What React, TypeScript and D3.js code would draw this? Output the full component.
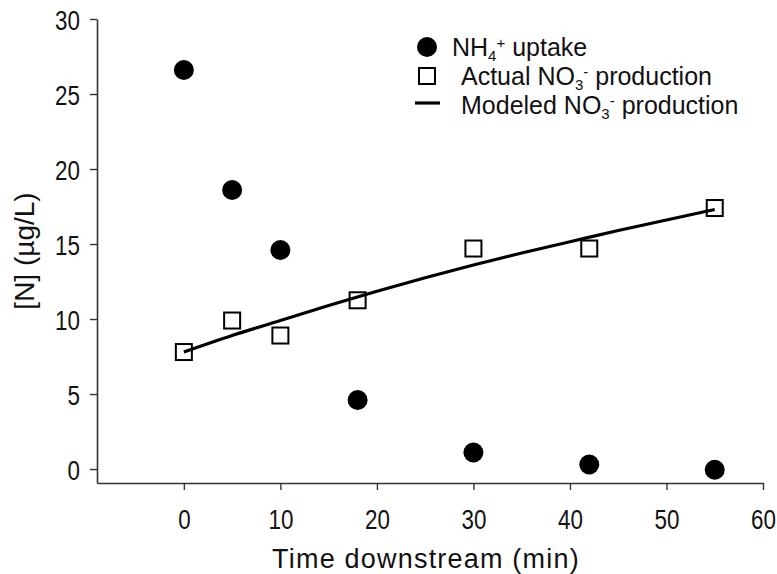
import React, { useEffect, useRef } from 'react';
import * as d3 from 'd3';

// time downstream (min)
const times = [0, 5, 10, 18, 30, 42, 55];
// NH4+ uptake (µg/L)
const nh4Uptake = [26.6, 18.6, 14.6, 4.6, 1.1, 0.3, -0.05];
// actual NO3- production (µg/L)
const no3Actual = [7.8, 9.9, 8.9, 11.25, 14.7, 14.7, 17.4];
// modeled NO3- production curve
const modelTimes = [0, 5, 10, 15, 20, 25, 30, 35, 40, 45, 50, 55];
const no3Modeled = [7.8, 8.9, 9.9, 10.9, 11.85, 12.75, 13.6, 14.4, 15.15, 15.9, 16.6, 17.3];

const xTicks = [0, 10, 20, 30, 40, 50, 60];
const yTicks = [0, 5, 10, 15, 20, 25, 30];

const W = 777;
const H = 574;
const FONT = '"Liberation Sans", Arial, sans-serif';
const SQUEEZE = 0.8; // tick labels are drawn condensed

const App: React.FC = () => {
    const svgRef = useRef<SVGSVGElement | null>(null);

    useEffect(() => {
        document.body.style.margin = '0';
        const svg = d3.select(svgRef.current).attr('width', W).attr('height', H);
        svg.selectAll('*').remove();

        const x = d3.scaleLinear().domain([-9, 60]).range([97, 763]);
        const y = d3.scaleLinear().domain([-0.93, 30]).range([483, 19]);

        svg.append('rect').attr('width', W).attr('height', H).attr('fill', '#fff');

        // axes
        const axisColor = '#333';
        const xAxis = svg.append('g').attr('transform', `translate(0,${y(-0.93)})`)
            .call(d3.axisBottom(x).tickValues(xTicks).tickSize(7).tickSizeOuter(0).tickPadding(19));
        const yAxis = svg.append('g').attr('transform', `translate(${x(-9)},0)`)
            .call(d3.axisLeft(y).tickValues(yTicks).tickSize(7).tickSizeOuter(0));

        [xAxis, yAxis].forEach(g => {
            g.select('.domain').attr('stroke', axisColor).attr('stroke-width', 1.6);
            g.selectAll('.tick line').attr('stroke', axisColor).attr('stroke-width', 1.4);
            g.selectAll('.tick text')
                .attr('fill', '#111')
                .style('font-family', FONT)
                .style('font-size', '28px')
                .attr('transform', `scale(${SQUEEZE},1)`);
        });
        yAxis.selectAll('.tick text').attr('x', -17 / SQUEEZE).attr('dy', '0.36em');

        // axis titles
        svg.append('text')
            .attr('x', 426).attr('y', 568)
            .attr('text-anchor', 'middle')
            .style('font-family', FONT).style('font-size', '27px')
            .style('letter-spacing', '1.2px')
            .attr('fill', '#111')
            .text('Time downstream (min)');

        svg.append('text')
            .attr('transform', `translate(34,251) rotate(-90)`)
            .attr('text-anchor', 'middle')
            .style('font-family', FONT).style('font-size', '28px')
            .attr('fill', '#111')
            .text('[N] (µg/L)');

        // modeled line
        const line = d3.line<number>()
            .x((_, i) => x(modelTimes[i]))
            .y(d => y(d))
            .curve(d3.curveMonotoneX);
        svg.append('path')
            .datum(no3Modeled)
            .attr('fill', 'none')
            .attr('stroke', '#000')
            .attr('stroke-width', 3.2)
            .attr('d', line);

        // actual NO3- squares
        const side = 16;
        svg.append('g').selectAll('rect')
            .data(no3Actual)
            .join('rect')
            .attr('x', (_, i) => x(times[i]) - side / 2)
            .attr('y', d => y(d) - side / 2)
            .attr('width', side).attr('height', side)
            .attr('fill', 'none')
            .attr('stroke', '#000')
            .attr('stroke-width', 2);

        // NH4+ circles
        svg.append('g').selectAll('circle')
            .data(nh4Uptake)
            .join('circle')
            .attr('cx', (_, i) => x(times[i]))
            .attr('cy', d => y(d))
            .attr('r', 10)
            .attr('fill', '#000');

        // legend
        const lg = svg.append('g').style('font-family', FONT).style('font-size', '25px').attr('fill', '#111');
        lg.append('circle').attr('cx', 427).attr('cy', 47).attr('r', 10).attr('fill', '#000');
        lg.append('rect').attr('x', 419).attr('y', 68).attr('width', 16).attr('height', 16)
            .attr('fill', 'none').attr('stroke', '#000').attr('stroke-width', 2);
        lg.append('line').attr('x1', 415).attr('x2', 440).attr('y1', 103).attr('y2', 103)
            .attr('stroke', '#000').attr('stroke-width', 3.2);

        const t1 = lg.append('text').attr('x', 452).attr('y', 56);
        t1.append('tspan').text('NH');
        t1.append('tspan').attr('dy', 5).style('font-size', '15px').text('4');
        t1.append('tspan').attr('dy', -13).style('font-size', '15px').text('+');
        t1.append('tspan').attr('dy', 8).text(' uptake');

        const rows: [number, string, string][] = [[85, 'Actual NO', ' production'], [114, 'Modeled NO', ' production']];
        rows.forEach(([yy, a, b]) => {
            const t = lg.append('text').attr('x', 461).attr('y', yy);
            t.append('tspan').text(a);
            t.append('tspan').attr('dy', 5).style('font-size', '15px').text('3');
            t.append('tspan').attr('dy', -13).style('font-size', '15px').text('-');
            t.append('tspan').attr('dy', 8).text(b);
        });
    }, []);

    return <svg ref={svgRef}></svg>;
};

export default App;
